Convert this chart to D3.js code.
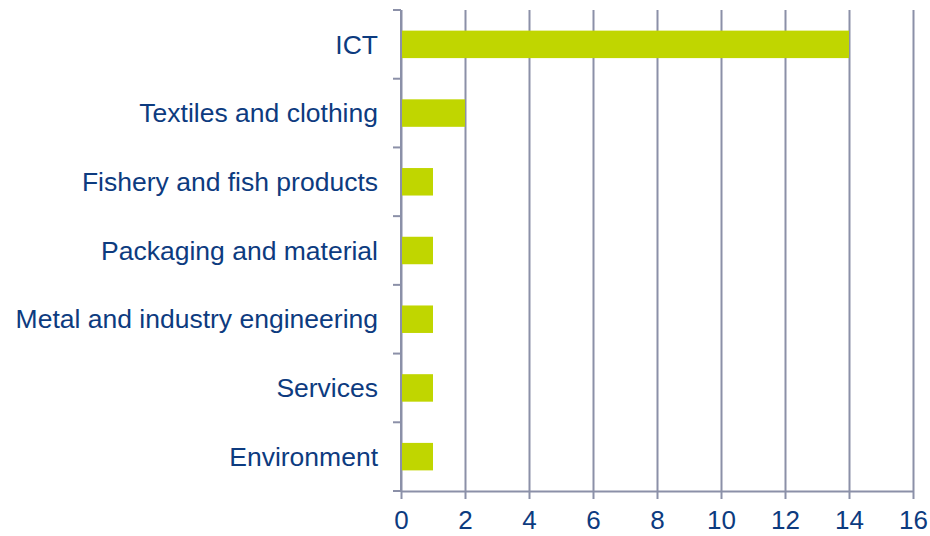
<!DOCTYPE html>
<html>
<head>
<meta charset="utf-8">
<script src="https://cdn.jsdelivr.net/npm/d3@7"></script>
<style>
  body { margin: 0; background: #fff; }
  svg { display: block; font-family: "Liberation Sans", Arial, sans-serif; }
</style>
</head>
<body>
<svg width="930" height="536"></svg>
<script>
// data
const sectors = [
  "ICT",
  "Textiles and clothing",
  "Fishery and fish products",
  "Packaging and material",
  "Metal and industry engineering",
  "Services",
  "Environment"
];
const counts = [14, 2, 1, 1, 1, 1, 1];
const xTicks = [0, 2, 4, 6, 8, 10, 12, 14, 16];

const svg = d3.select("svg");
const margin = { top: 10, right: 17, bottom: 45, left: 401 };
const width = 930 - margin.left - margin.right;
const height = 536 - margin.top - margin.bottom;

const gridColor = "#8b90a8";
const textColor = "#0d3b7f";
const barColor = "#c0d600";

const x = d3.scaleLinear().domain([0, 16]).range([0, width]);
const y = d3.scaleBand().domain(sectors).range([0, height])
  .paddingInner(0.6).paddingOuter(0.3);

const g = svg.append("g").attr("transform", `translate(${margin.left},${margin.top})`);

// vertical grid lines
g.append("g")
  .call(d3.axisBottom(x).tickValues(xTicks).tickSize(height).tickFormat(""))
  .call(a => a.select(".domain").remove())
  .call(a => a.selectAll("line").attr("stroke", gridColor).attr("stroke-width", 2));

// bars
g.selectAll("rect.bar")
  .data(sectors)
  .enter()
  .append("rect")
  .attr("class", "bar")
  .attr("x", 0)
  .attr("y", d => y(d))
  .attr("width", (d, i) => x(counts[i]))
  .attr("height", y.bandwidth())
  .attr("fill", barColor);

// bottom axis
g.append("g")
  .attr("transform", `translate(0,${height})`)
  .call(d3.axisBottom(x).tickValues(xTicks).tickSize(8).tickSizeOuter(0).tickPadding(12))
  .call(a => a.select(".domain").attr("stroke", gridColor).attr("stroke-width", 2))
  .call(a => a.selectAll("line").attr("stroke", gridColor).attr("stroke-width", 2))
  .call(a => a.selectAll("text").attr("fill", textColor).attr("font-size", 26)
    .attr("font-family", "Liberation Sans, Arial, sans-serif"));

// left axis: ticks at band boundaries, labels at band centres
const step = height / sectors.length;
const bounds = d3.range(sectors.length + 1).map(i => i * step);
const left = g.append("g");
left.append("line")
  .attr("x1", 0).attr("x2", 0).attr("y1", 0).attr("y2", height)
  .attr("stroke", gridColor).attr("stroke-width", 2);
left.selectAll("line.tick")
  .data(bounds)
  .enter()
  .append("line")
  .attr("class", "tick")
  .attr("x1", -8).attr("x2", 0)
  .attr("y1", d => d).attr("y2", d => d)
  .attr("stroke", gridColor).attr("stroke-width", 2);
left.selectAll("text")
  .data(sectors)
  .enter()
  .append("text")
  .attr("x", -23)
  .attr("y", d => y(d) + y.bandwidth() / 2)
  .attr("dy", "0.35em")
  .attr("text-anchor", "end")
  .attr("fill", textColor)
  .attr("font-size", 26.5)
  .text(d => d);
</script>
</body>
</html>
